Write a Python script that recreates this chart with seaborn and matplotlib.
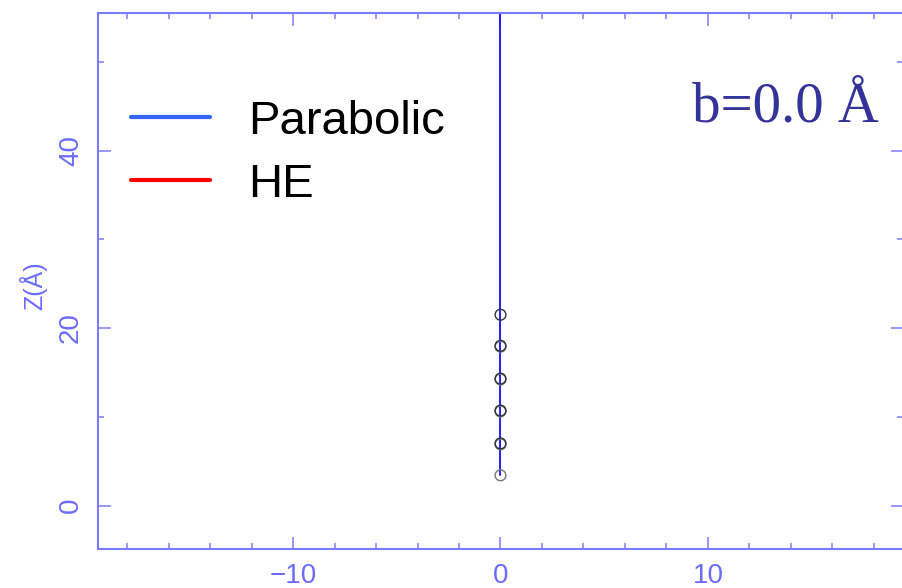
import matplotlib
matplotlib.use("Agg")
import matplotlib.pyplot as plt
from matplotlib.lines import Line2D
from matplotlib.ticker import MultipleLocator
import seaborn as sns

# ---- data ----
para_x = [0.0, 0.0]
para_z = [3.4, 60.0]
he_x = [0.0, 0.0]
he_z = [3.4, 60.0]
pts1_x = [0, 0, 0, 0, 0]
pts1_z = [3.4, 6.9, 10.6, 14.2, 17.9]
pts2_x = [0, 0, 0, 0, 0]
pts2_z = [7.0, 10.7, 14.3, 18.0, 21.5]
legend_labels = ["Parabolic", "HE"]
legend_colors = ["#3366ff", "#ff0000"]
annot = "b=0.0 Å"

sns.set_theme(style="white")
plt.rcParams["font.family"] = ["Liberation Sans", "DejaVu Sans"]

axcol = "#7b7bff"
txtcol = "#6b6bff"

fig = plt.figure(figsize=(9.02, 5.88), dpi=100)
ax = fig.add_axes([98/902, 1-549/588, (903-98)/902, (549-13)/588])

sns.lineplot(x=he_x, y=he_z, sort=False, estimator=None, errorbar=None,
             color="#ff0000", lw=0.4, ax=ax)
sns.lineplot(x=para_x, y=para_z, sort=False, estimator=None, errorbar=None,
             color="#1414ff", lw=1.3, ax=ax)
sns.scatterplot(x=pts1_x, y=pts1_z, marker="o", s=60, facecolor="none",
                edgecolor="#777777", linewidth=1.0, ax=ax, zorder=3)
sns.scatterplot(x=pts2_x, y=pts2_z, marker="o", s=60, facecolor="none",
                edgecolor="#333333", linewidth=1.0, ax=ax, zorder=3)

ax.set_xlim(-19.4, 19.4)
ax.set_ylim(-4.9, 55.5)
ax.xaxis.set_major_locator(MultipleLocator(10))
ax.xaxis.set_minor_locator(MultipleLocator(2))
ax.yaxis.set_major_locator(MultipleLocator(20))
ax.yaxis.set_minor_locator(MultipleLocator(10))

for s in ax.spines.values():
    s.set_color(axcol)
    s.set_linewidth(1.5)
ax.spines["right"].set_visible(False)

ax.tick_params(which="both", direction="in", top=True, right=True, bottom=True, left=True,
               color=axcol, width=1.1, labelcolor=txtcol, labelsize=20)
ax.tick_params(which="major", length=9)
ax.tick_params(which="minor", length=4.5)
ax.tick_params(axis="x", pad=10)
ax.tick_params(axis="y", pad=10)
for lab in ax.get_yticklabels():
    lab.set_rotation(90)
    lab.set_va("center")

ax.set_xlabel("")
ax.set_ylabel("Z(Å)", fontsize=18, color=txtcol)
ax.yaxis.set_label_coords(-(98-47)/(903-98), (549-286)/(549-13))

handles = [Line2D([0], [0], color=c, lw=3) for c in legend_colors]
leg = ax.legend(handles, legend_labels, loc="upper left",
                bbox_to_anchor=(131/902, 1-100/588), bbox_transform=fig.transFigure,
                frameon=False, fontsize=34, handlelength=1.67, handletextpad=0.8,
                labelspacing=0.4, borderpad=0, borderaxespad=0)
for t in leg.get_texts():
    t.set_color("black")

fig.text(879/902, 1-121/588, annot, ha="right", va="baseline",
         fontsize=41, color="#333399", family=["Liberation Serif", "DejaVu Serif"])

fig.savefig("out.png", dpi=100)
